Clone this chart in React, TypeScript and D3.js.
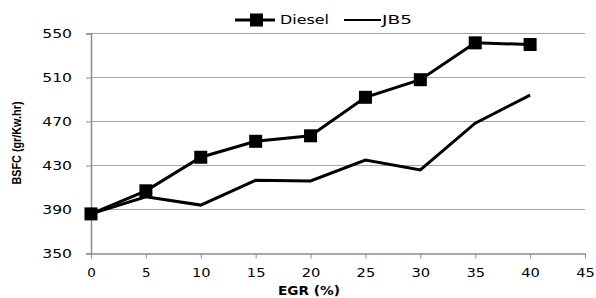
import React, { useRef, useEffect } from "react";
import * as d3 from "d3";

const egr = [0, 5, 10, 15, 20, 25, 30, 35, 40];
const diesel = [386, 407, 437.5, 452, 457, 492, 508, 541.5, 540];
const jb5 = [386, 401.5, 394, 416.5, 416, 435, 426, 468.5, 494];
const xTicks = [0, 5, 10, 15, 20, 25, 30, 35, 40, 45];
const yTicks = [350, 390, 430, 470, 510, 550];

const W = 596;
const H = 298;
const margin = { left: 91, right: 11, top: 33.5, bottom: 44.5 };

// the reference text is stretched sideways, so fit each label to a width
const stretch = (s: string) => s.length * 10.1 - 0.5;

const App: React.FC = () => {
  const svgRef = useRef<SVGSVGElement>(null);

  useEffect(() => {
    if (!svgRef.current) return;
    const svg = d3.select(svgRef.current);
    svg.selectAll("*").remove();

    const x = d3.scaleLinear().domain([0, 45]).range([margin.left, W - margin.right]);
    const y = d3.scaleLinear().domain([350, 550]).range([H - margin.bottom, margin.top]);
    const tickFont = "DejaVu Sans, Verdana, sans-serif";

    // gridlines
    svg
      .append("g")
      .selectAll("line")
      .data(yTicks.slice(1))
      .join("line")
      .attr("x1", x(0))
      .attr("x2", x(45))
      .attr("y1", (d) => y(d))
      .attr("y2", (d) => y(d))
      .attr("stroke", "#a6a6a6")
      .attr("stroke-width", 1);

    // y axis
    const yAxis = svg
      .append("g")
      .attr("transform", `translate(${x(0)},0)`)
      .call(d3.axisLeft(y).tickValues(yTicks).tickSize(5).tickPadding(14));
    yAxis.select(".domain").attr("stroke", "#8c8c8c").attr("stroke-width", 1.5);
    yAxis.selectAll(".tick line").attr("stroke", "#8c8c8c");
    yAxis
      .selectAll<SVGTextElement, number>("text")
      .attr("font-family", tickFont)
      .attr("font-size", 11.5)
      .attr("fill", "#000")
      .attr("textLength", (d) => stretch(String(d)))
      .attr("lengthAdjust", "spacingAndGlyphs");

    // x axis
    const xAxis = svg
      .append("g")
      .attr("transform", `translate(0,${y(350)})`)
      .call(d3.axisBottom(x).tickValues(xTicks).tickSize(5).tickSizeOuter(0).tickPadding(10));
    xAxis.select(".domain").attr("stroke", "#8c8c8c").attr("stroke-width", 1.5);
    xAxis.selectAll(".tick line").attr("stroke", "#8c8c8c");
    xAxis
      .selectAll<SVGTextElement, number>("text")
      .attr("font-family", tickFont)
      .attr("font-size", 11.5)
      .attr("fill", "#000")
      .attr("textLength", (d) => stretch(String(d)) - 1)
      .attr("lengthAdjust", "spacingAndGlyphs");

    const line = d3
      .line<number>()
      .x((_, i) => x(egr[i]))
      .y((d) => y(d));

    svg
      .append("path")
      .attr("d", line(jb5))
      .attr("fill", "none")
      .attr("stroke", "#000")
      .attr("stroke-width", 3);

    svg
      .append("path")
      .attr("d", line(diesel))
      .attr("fill", "none")
      .attr("stroke", "#000")
      .attr("stroke-width", 3);

    const sq = 13;
    svg
      .append("g")
      .selectAll("rect")
      .data(diesel)
      .join("rect")
      .attr("x", (_, i) => x(egr[i]) - sq / 2)
      .attr("y", (d) => y(d) - sq / 2)
      .attr("width", sq)
      .attr("height", sq)
      .attr("fill", "#000");

    // legend
    const lg = svg.append("g").attr("transform", "translate(0,20)");
    lg.append("line").attr("x1", 235).attr("x2", 275).attr("y1", 0).attr("y2", 0)
      .attr("stroke", "#000").attr("stroke-width", 3);
    lg.append("rect").attr("x", 250).attr("y", -6.5).attr("width", 13).attr("height", 13).attr("fill", "#000");
    lg.append("text").attr("x", 280).attr("y", 4).text("Diesel")
      .attr("font-family", tickFont).attr("font-size", 11.5).attr("fill", "#000")
      .attr("textLength", 49).attr("lengthAdjust", "spacingAndGlyphs");
    lg.append("line").attr("x1", 344).attr("x2", 381).attr("y1", 0).attr("y2", 0)
      .attr("stroke", "#000").attr("stroke-width", 2);
    lg.append("text").attr("x", 382).attr("y", 4).text("JB5")
      .attr("font-family", tickFont).attr("font-size", 11.5).attr("fill", "#000")
      .attr("textLength", 30).attr("lengthAdjust", "spacingAndGlyphs");

    // titles
    svg
      .append("text")
      .attr("transform", `translate(20.5,143) rotate(-90)`)
      .attr("text-anchor", "middle")
      .attr("font-family", "Liberation Sans Narrow, Arial Narrow, sans-serif")
      .attr("font-weight", "bold")
      .attr("font-size", 13)
      .attr("textLength", 83)
      .attr("lengthAdjust", "spacingAndGlyphs")
      .text("BSFC (gr/Kw.hr)");

    svg
      .append("text")
      .attr("x", 309)
      .attr("y", 295)
      .attr("text-anchor", "middle")
      .attr("font-family", tickFont)
      .attr("font-weight", "bold")
      .attr("font-size", 11.5)
      .attr("textLength", 62)
      .attr("lengthAdjust", "spacingAndGlyphs")
      .text("EGR (%)");
  }, []);

  return (
    <svg
      ref={svgRef}
      width={W}
      height={H}
      style={{ display: "block", position: "absolute", left: 0, top: 0, background: "#fff" }}
    />
  );
};

export default App;
